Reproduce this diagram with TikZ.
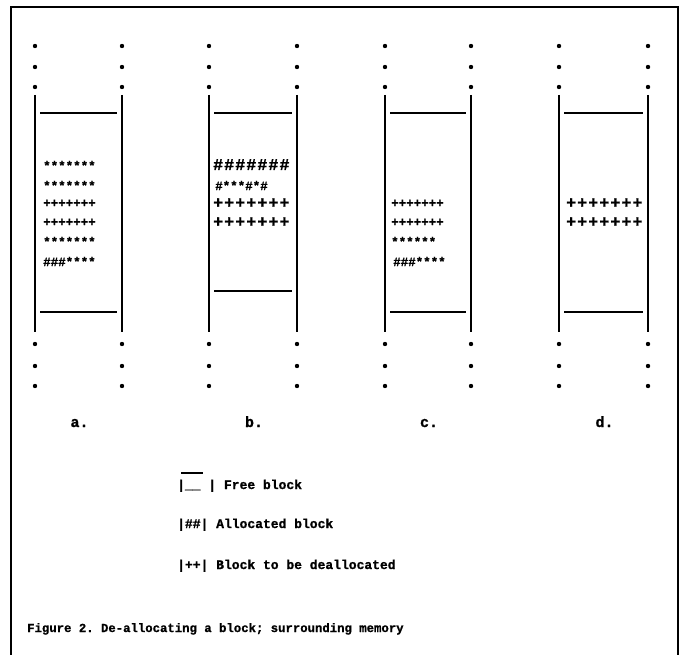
\documentclass[tikz,border=0pt]{standalone}
\usepackage{fontspec}
\setmonofont{Liberation Mono}[BoldFeatures={FakeBold=1}]
\newfontfamily\widemono{Liberation Mono}[LetterSpace=7,BoldFeatures={FakeBold=1}]
\begin{document}
\begin{tikzpicture}[x=1pt,y=-1pt,
    wall/.style={line width=1.8pt},
    bar/.style={line width=1.3pt},
    memdot/.style={circle,fill=black,inner sep=0pt,minimum size=4.4pt},
    memrow/.style={anchor=base west,inner sep=0pt,font=\ttfamily\bfseries\fontsize{12.5}{14}\selectfont},
    bigrow/.style={anchor=base west,inner sep=0pt,font=\widemono\bfseries\fontsize{16.5}{18}\selectfont},
    tag/.style={anchor=base,inner sep=0pt,font=\ttfamily\bfseries\fontsize{15}{17}\selectfont},
    legend/.style={anchor=base west,inner sep=0pt,font=\ttfamily\bfseries\fontsize{13}{15}\selectfont}]
    \useasboundingbox (0,0) rectangle (682,655);
    % frame
    \draw[line width=1.6pt] (11,655) -- (11,7) -- (678,7) -- (678,655);

    % memory columns
    \foreach \col/\l/\r/\b in {a/35/122/312, b/209/297/291, c/385/471/312, d/559/648/312} {
        \foreach \y [count=\i] in {46,67,87} {
            \node[memdot] (\col-tl\i) at (\l,\y) {};
            \node[memdot] (\col-tr\i) at (\r,\y) {};
        }
        \foreach \y [count=\i] in {344,366,386} {
            \node[memdot] (\col-bl\i) at (\l,\y) {};
            \node[memdot] (\col-br\i) at (\r,\y) {};
        }
        \coordinate (\col-lt) at (\l,95);
        \coordinate (\col-lb) at (\l,332);
        \coordinate (\col-rt) at (\r,95);
        \coordinate (\col-rb) at (\r,332);
        \draw[wall] (\col-lt) -- (\col-lb);
        \draw[wall] (\col-rt) -- (\col-rb);
        \coordinate (\col-top1) at (\l+5,113);
        \coordinate (\col-top2) at (\r-5,113);
        \coordinate (\col-bot1) at (\l+5,\b);
        \coordinate (\col-bot2) at (\r-5,\b);
        \draw[bar] (\col-top1) -- (\col-top2);
        \draw[bar] (\col-bot1) -- (\col-bot2);
        \node[tag] (\col-tag) at ({(\l+\r)/2+1},427) {\col.};
    }

    % a.
    \node[memrow] (a1) at (43,170) {*******};
    \node[memrow] (a2) at (43,190) {*******};
    \node[memrow] (a3) at (43,207) {+++++++};
    \node[memrow] (a4) at (43,226) {+++++++};
    \node[memrow] (a5) at (43,246) {*******};
    \node[memrow] (a6) at (43,266) {\#\#\#****};

    % b.
    \node[bigrow] (b1) at (213,170) {\#\#\#\#\#\#\#};
    \node[memrow] (b2) at (215,190) {\#***\#*\#};
    \node[bigrow] (b3) at (213,208) {+++++++};
    \node[bigrow] (b4) at (213,227) {+++++++};

    % c.
    \node[memrow] (c1) at (391,207) {+++++++};
    \node[memrow] (c2) at (391,226) {+++++++};
    \node[memrow] (c3) at (391,246) {******};
    \node[memrow] (c4) at (393,266) {\#\#\#****};

    % d.
    \node[bigrow] (d1) at (566,208) {+++++++};
    \node[bigrow] (d2) at (566,227) {+++++++};

    % legend
    \coordinate (free1) at (181,473);
    \coordinate (free2) at (203,473);
    \draw[bar] (free1) -- (free2);
    \node[legend] (free) at (177,489) {|\_\_ | Free block};
    \node[legend] (alloc) at (177,528) {|\#\#| Allocated block};
    \node[legend] (dealloc) at (177,569) {|++| Block to be deallocated};

    % caption
    \node[legend,font=\ttfamily\bfseries\fontsize{12.3}{14}\selectfont] (caption) at (27,632)
        {Figure 2. De-allocating a block; surrounding memory};
\end{tikzpicture}
\end{document}
